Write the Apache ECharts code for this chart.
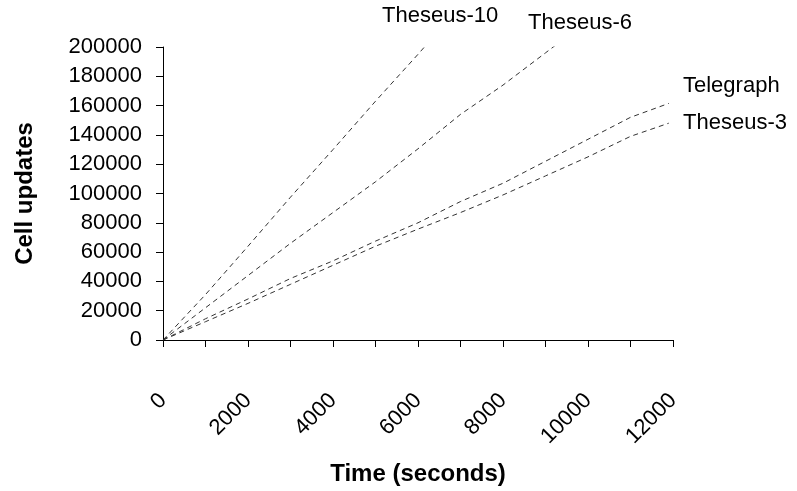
<!DOCTYPE html>
<html>
<head>
<meta charset="utf-8">
<script src="https://cdn.jsdelivr.net/npm/echarts@6/dist/echarts.min.js"></script>
<style>html,body{margin:0;padding:0;background:#fff;}#c{width:797px;height:491px;}</style>
</head>
<body>
<div id="c"></div>
<script>
// Time (seconds) values for each series
const timeMain = [0, 1000, 2000, 3000, 4000, 5000, 6000, 7000, 8000, 9000, 10000, 11000, 11900];
const timeT6 = [0, 1000, 2000, 3000, 4000, 5000, 6000, 7000, 8000, 9000, 10000];
const timeT10 = [0, 1000, 2000, 3000, 4000, 5000, 6000, 7000];
// Cell updates
const theseus10 = [0, 31000, 64000, 97500, 130000, 163000, 195000, 228000];
const theseus6 = [0, 22000, 44000, 66000, 87000, 108000, 130500, 154000, 174000, 196000, 218000];
const telegraph = [0, 14500, 28000, 42000, 54000, 67500, 80000, 94500, 107000, 122000, 137000, 152000, 161500];
const theseus3 = [0, 12500, 25000, 38000, 51000, 64000, 75700, 87000, 99000, 112000, 125000, 139000, 148000];
const seriesNames = ['Theseus-10', 'Theseus-6', 'Telegraph', 'Theseus-3'];

const FONT = '"Liberation Sans", Arial, sans-serif';
const zip = (xs, ys) => ys.map((y, i) => [xs[i], y]);
const lineStyle = { color: '#333', width: 1, type: [5, 4] };

const chart = echarts.init(document.getElementById('c'), null, { renderer: 'canvas' });
chart.setOption({
  animation: false,
  backgroundColor: '#fff',
  grid: { left: 163, right: 124, top: 47, bottom: 147, containLabel: false },
  xAxis: {
    type: 'value', min: 0, max: 12000, interval: 1000,
    name: 'Time (seconds)', nameLocation: 'middle', nameGap: 122,
    nameTextStyle: { fontFamily: FONT, fontSize: 24, fontWeight: 'bold', color: '#000' },
    axisLine: { show: true, onZero: false, lineStyle: { color: '#000', width: 1 } },
    axisTick: { show: true, length: 7, lineStyle: { color: '#000' } },
    splitLine: { show: false },
    axisLabel: {
      rotate: 45, margin: 57, fontFamily: FONT, fontSize: 22, color: '#000',
      formatter: v => (v % 2000 === 0 ? String(v) : '')
    }
  },
  yAxis: {
    type: 'value', min: 0, max: 200000, interval: 20000,
    name: 'Cell updates', nameLocation: 'middle', nameRotate: 90, nameGap: 126,
    nameTextStyle: { fontFamily: FONT, fontSize: 24, fontWeight: 'bold', color: '#000' },
    axisLine: { show: true, lineStyle: { color: '#000', width: 1 } },
    axisTick: { show: true, length: 7, lineStyle: { color: '#000' } },
    splitLine: { show: false },
    axisLabel: { margin: 21, fontFamily: FONT, fontSize: 22, color: '#000', formatter: v => String(v) }
  },
  series: [
    { name: seriesNames[0], type: 'line', data: zip(timeT10, theseus10), symbol: 'none', clip: true, lineStyle },
    { name: seriesNames[1], type: 'line', data: zip(timeT6, theseus6), symbol: 'none', clip: true, lineStyle },
    { name: seriesNames[2], type: 'line', data: zip(timeMain, telegraph), symbol: 'none', clip: true, lineStyle },
    { name: seriesNames[3], type: 'line', data: zip(timeMain, theseus3), symbol: 'none', clip: true, lineStyle }
  ],
  graphic: [
    { type: 'text', left: 382, top: 5, style: { text: seriesNames[0], font: '22px ' + FONT, fill: '#000' } },
    { type: 'text', left: 528, top: 12, style: { text: seriesNames[1], font: '22px ' + FONT, fill: '#000' } },
    { type: 'text', left: 683, top: 75, style: { text: seriesNames[2], font: '22px ' + FONT, fill: '#000' } },
    { type: 'text', left: 683, top: 112, style: { text: seriesNames[3], font: '22px ' + FONT, fill: '#000' } }
  ]
});
</script>
</body>
</html>
